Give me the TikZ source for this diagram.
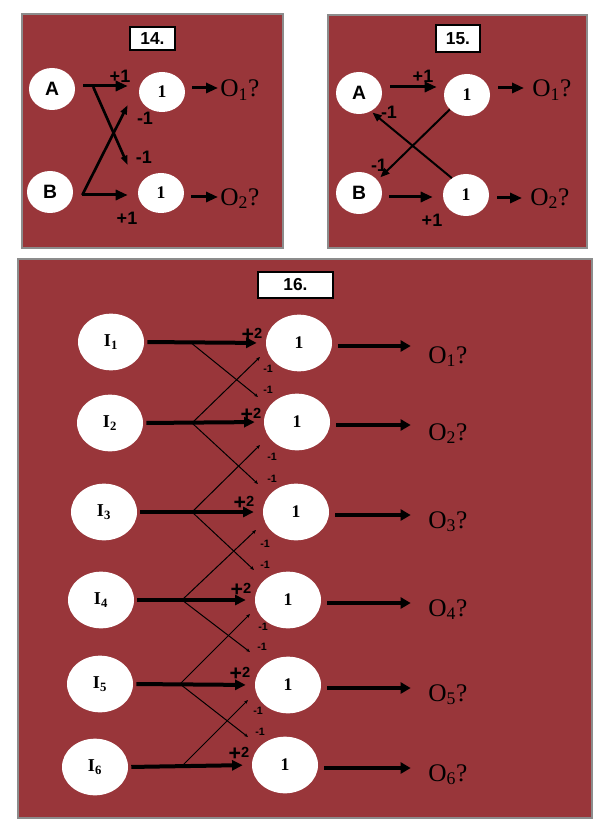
\documentclass[tikz,border=0pt]{standalone}
\usepackage{fontspec}
\setmainfont{Liberation Serif}
\setsansfont{Liberation Sans}
\usetikzlibrary{arrows.meta,shapes.geometric}
\definecolor{panelred}{RGB}{153,54,58}
\begin{document}
\begin{tikzpicture}[x=0.75pt,y=-0.75pt,
 panel/.style={fill=panelred, draw=black!45, line width=1.2pt},
 titlebox/.style={fill=white, draw=black, line width=0.8pt, inner sep=0pt, font=\sffamily\bfseries\fontsize{13}{13}\selectfont},
 neuron/.style={ellipse, fill=white, inner sep=0pt, minimum width=34.5pt, minimum height=31.5pt},
 bigneuron/.style={ellipse, fill=white, inner sep=0pt, minimum width=49.5pt, minimum height=42.5pt},
 letter/.style={font=\sffamily\bfseries\fontsize{14.5}{14.5}\selectfont},
 one/.style={font=\bfseries\fontsize{13.3}{13.3}\selectfont},
 bigone/.style={font=\bfseries\fontsize{13.3}{13.3}\selectfont},
 outtext/.style={anchor=base west, inner sep=0pt, font=\fontsize{19}{19}\selectfont},
 wlabel/.style={font=\sffamily\bfseries\fontsize{13.5}{13.5}\selectfont, inner sep=0pt},
 nlabel/.style={font=\sffamily\bfseries\fontsize{13.5}{13.5}\selectfont, inner sep=0pt},
 tinylabel/.style={font=\sffamily\bfseries\fontsize{8}{8}\selectfont, inner sep=0pt},
 pluslabel/.style={font=\sffamily\bfseries, inner sep=0pt},
 thickA/.style={line width=2.25pt, -{Triangle[length=9pt,width=7.5pt]}},
 crossA/.style={line width=2pt, -{Triangle[length=7pt,width=4.8pt]}},
 medA/.style={line width=1.5pt, -{Triangle[length=7pt,width=5.5pt]}},
 bigA/.style={line width=3pt, -{Triangle[length=8pt,width=7.5pt]}},
 outA/.style={line width=3.2pt, -{Triangle[length=7.5pt,width=8.25pt]}},
 thinA/.style={line width=0.75pt, -{Stealth[length=3pt,width=2.5pt]}},
]
\useasboundingbox (0,0) rectangle (600,827);
\fill[white] (0,0) rectangle (600,827);

% ---------- panels ----------
\path[panel] (22,14) rectangle (283,248);
\path[panel] (328,15) rectangle (587,248);
\path[panel] (18,259) rectangle (592,818);

\node[titlebox, minimum width=33.75pt, minimum height=17.25pt] (t14) at (152.5,38.5) {14.};
\node[titlebox, minimum width=33pt, minimum height=20.25pt] (t15) at (458,38.5) {15.};
\node[titlebox, minimum width=56.25pt, minimum height=19.5pt] (t16) at (295.5,285) {16.};

% ---------- panel 14 ----------
\node[neuron, letter] (A14) at (52,89) {A};
\node[neuron, letter] (B14) at (50,192) {B};
\node[neuron, one, minimum height=30pt] (H14a) at (162,92) {1};
\node[neuron, one, minimum height=30pt] (H14b) at (161,193) {1};
\node[outtext] (O14a) at (220,97) {O\textsubscript{1}?};
\node[outtext] (O14b) at (220,205) {O\textsubscript{2}?};

\draw[thickA] ([shift={(8,-3)}]A14.east) -- ([shift={(-11,-6)}]H14a.west);
\draw[crossA] ([shift={(18,-2)}]A14.east) -- ([shift={(-10,-28)}]H14b.west);
\draw[thickA] ([shift={(9,3)}]B14.east) -- ([shift={(-10,2)}]H14b.west);
\draw[crossA] ([shift={(9,3)}]B14.east) -- ([shift={(-11,13)}]H14a.west);
\draw[thickA, shorten <=5.25pt, shorten >=1.5pt] ([yshift=3pt]H14a.east) -- ([yshift=3pt]H14a.east -| O14a.west);
\draw[thickA, shorten <=5.25pt, shorten >=1.5pt] ([yshift=-3pt]H14b.east) -- ([yshift=-3pt]H14b.east -| O14b.west);

\node[wlabel] (w14a) at (120,76) {+1};
\node[nlabel] (w14b) at (145,118) {-1};
\node[nlabel] (w14c) at (144,157) {-1};
\node[wlabel] (w14d) at (127,218) {+1};

% ---------- panel 15 ----------
\node[neuron, letter] (A15) at (359,93) {A};
\node[neuron, letter] (B15) at (359,193) {B};
\node[neuron, one] (H15a) at (467,95) {1};
\node[neuron, one] (H15b) at (466,195) {1};
\node[outtext] (O15a) at (532,97) {O\textsubscript{1}?};
\node[outtext] (O15b) at (530,205) {O\textsubscript{2}?};

\draw[thickA] ([shift={(8,-6)}]A15.east) -- ([shift={(-7,-8)}]H15a.west);
\draw[thickA] ([shift={(7,4)}]B15.east) -- ([shift={(-10,2)}]H15b.west);
\draw[medA, shorten >=3pt] (H15a.220) -- (B15.35);
\draw[medA, shorten >=1.5pt] (H15b.130) -- (A15.303);
\draw[thickA, shorten <=6pt, shorten >=6pt] ([yshift=5.25pt]H15a.east) -- ([yshift=5.25pt]H15a.east -| O15a.west);
\draw[thickA, shorten <=6pt, shorten >=6pt] ([yshift=-2.25pt]H15b.east) -- ([yshift=-2.25pt]H15b.east -| O15b.west);

\node[wlabel] (w15a) at (423,76) {+1};
\node[nlabel] (w15b) at (389,112) {-1};
\node[nlabel] (w15c) at (379,165) {-1};
\node[wlabel] (w15d) at (432,220) {+1};

% ---------- panel 16 ----------
\foreach \k/\ix/\iy/\nx/\ny/\oy in {1/111/342/299/343/363, 2/110/423/297/422/440, 3/104/512/296/512/528, 4/101/600/288/600/616, 5/100/684/288/685/701, 6/95/767/285/765/781}{
  \node[bigneuron, font=\bfseries\fontsize{13.6}{13.6}\selectfont] (I\k) at (\ix,\iy) {I\textsubscript{\k}};
  \node[bigneuron, bigone] (N\k) at (\nx,\ny) {1};
  \node[outtext] (O\k) at (428,\oy) {O\textsubscript{\k}?};
  \draw[bigA, shorten <=2.25pt, shorten >=6.75pt] (I\k.east) -- (N\k.west);
  \draw[outA, shorten <=4.5pt, shorten >=13pt] ([yshift=-2.25pt]N\k.east) -- ([yshift=-2.25pt]N\k.east -| O\k.west);
}

\coordinate (b1) at (190,342);
\coordinate (b2) at (192,423);
\coordinate (b3) at (192,512);
\coordinate (b4) at (182,600);
\coordinate (b5) at (180,684);
\coordinate (b6) at (182,766);

\coordinate (e1d) at (258,397);
\coordinate (e2u) at (260,357);
\coordinate (e2d) at (258,484);
\coordinate (e3u) at (260,445);
\coordinate (e3d) at (254,570);
\coordinate (e4u) at (256,530);
\coordinate (e4d) at (250,652);
\coordinate (e5u) at (250,614);
\coordinate (e5d) at (248,737);
\coordinate (e6u) at (248,700);

\draw[thinA] (b1) -- (e1d);
\draw[thinA] (b2) -- (e2u);
\draw[thinA] (b2) -- (e2d);
\draw[thinA] (b3) -- (e3u);
\draw[thinA] (b3) -- (e3d);
\draw[thinA] (b4) -- (e4u);
\draw[thinA] (b4) -- (e4d);
\draw[thinA] (b5) -- (e5u);
\draw[thinA] (b5) -- (e5d);
\draw[thinA] (b6) -- (e6u);

\foreach \n/\x/\y in {1/252/335, 2/251/415, 3/244/503, 4/241/590, 5/240/674, 6/239/754}{
  \node[pluslabel] (p\n) at (\x,\y) {\fontsize{16}{16}\selectfont+\fontsize{11}{11}\selectfont\raisebox{2.5pt}{2}};
}

\foreach \n/\x/\y in {a/268/369, b/268/390, c/272/457, d/272/479, e/265/544, f/265/565, g/263/627, h/262/647, i/258/711, j/260/732}{
  \node[tinylabel] (m\n) at (\x,\y) {-1};
}
\end{tikzpicture}
\end{document}
